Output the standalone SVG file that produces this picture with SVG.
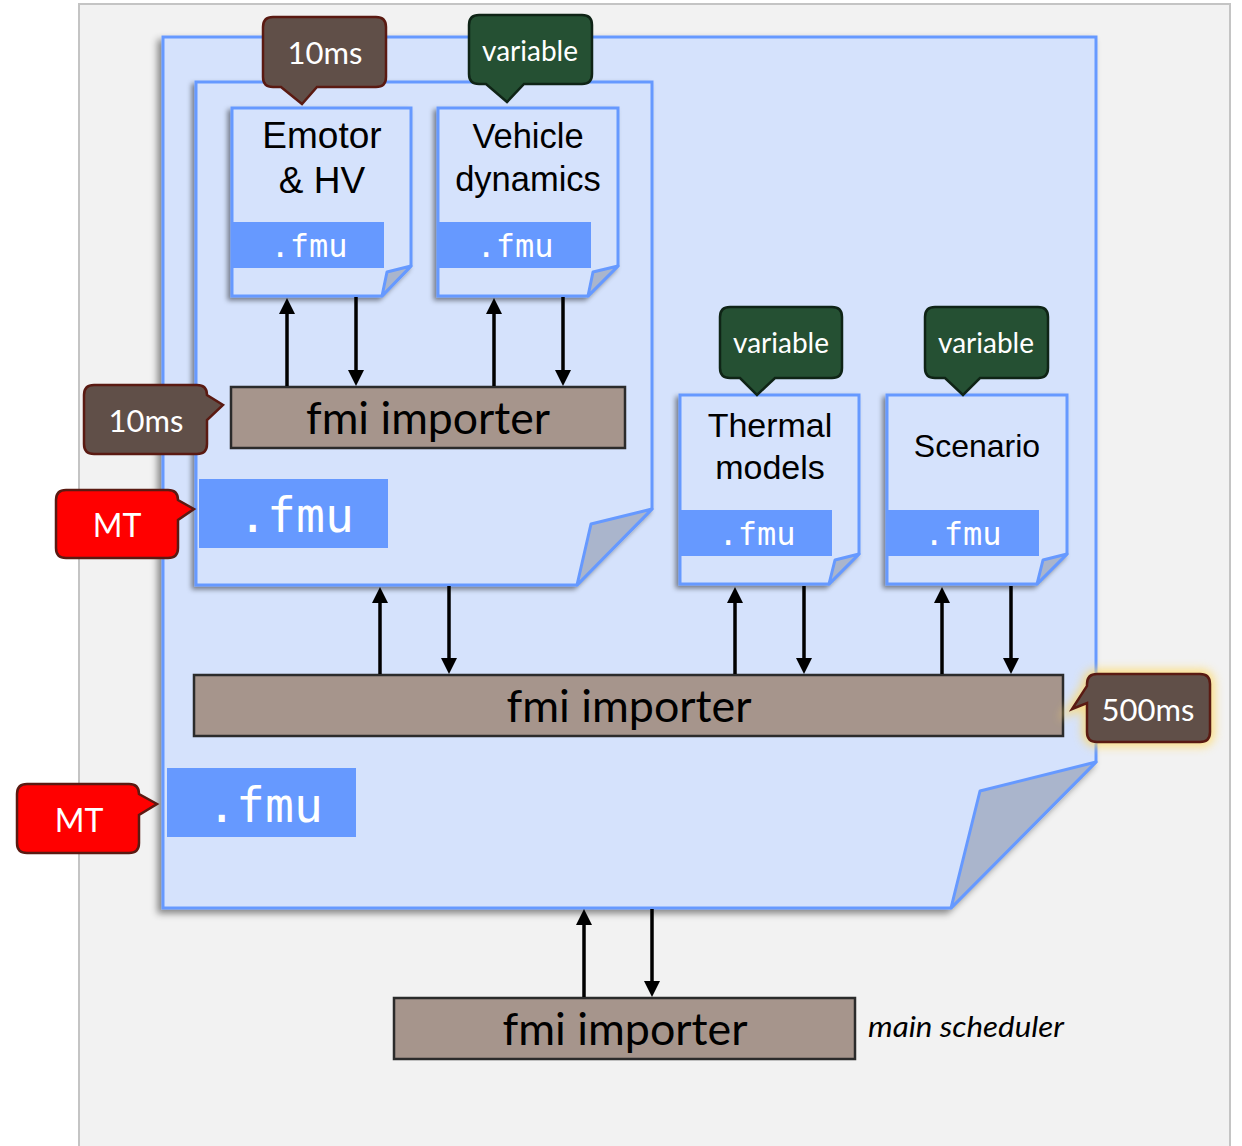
<svg xmlns="http://www.w3.org/2000/svg" width="1242" height="1146" viewBox="0 0 1242 1146">
<defs>
<style>
.doc{fill:#d5e2fc;stroke:#6699ff;stroke-width:3;stroke-linejoin:miter}
.fold{fill:#aab5cc;stroke:#6699ff;stroke-width:3;stroke-linejoin:round}
.band{fill:#6699ff}
.fmu{font-family:"DejaVu Sans Mono",monospace;fill:#ffffff;text-anchor:middle}
.title{font-family:"Liberation Sans",Arial,sans-serif;fill:#000;text-anchor:middle}
.imp{fill:#a6958c;stroke:#2b2b2b;stroke-width:2.5}
.impt{font-family:Lato,"Open Sans",sans-serif;font-size:44px;fill:#000;text-anchor:middle}
.brown{fill:#604f48;stroke:#5a1a12;stroke-width:2.5}
.green{fill:#255033;stroke:#0f2416;stroke-width:2.5}
.red{fill:#ff0000;stroke:#5a1a12;stroke-width:2.5}
.ct{font-family:Lato,"Open Sans",sans-serif;fill:#ffffff;text-anchor:middle}
.conn{stroke:#000;stroke-width:3.5;fill:none}
</style>
<filter id="sh" x="-20%" y="-20%" width="140%" height="140%">
<feDropShadow dx="-3" dy="3" stdDeviation="2.5" flood-color="#000" flood-opacity="0.45"/>
</filter>
<filter id="shBig" x="-10%" y="-10%" width="120%" height="120%">
<feDropShadow dx="-4" dy="4" stdDeviation="3.5" flood-color="#000" flood-opacity="0.45"/>
</filter>
<filter id="glow" x="-30%" y="-40%" width="160%" height="180%">
<feGaussianBlur stdDeviation="5"/>
</filter>
<marker id="ah" viewBox="0 0 16 16" refX="8" refY="8" markerWidth="16" markerHeight="16" markerUnits="userSpaceOnUse" orient="auto">
<path d="M0,0 L16,8 L0,16 Z" fill="#000"/>
</marker>
</defs>

<rect x="0" y="0" width="1242" height="1146" fill="#ffffff"/>
<rect id="panel" x="79" y="4" width="1151" height="1150" fill="#f2f2f2" stroke="#c4c4c4" stroke-width="2"/>

<g id="outer-fmu">
<path class="doc" filter="url(#shBig)" d="M163,37 H1096 V762 L951,908 H163 Z"/>
<path class="fold" d="M1096,762 L980,791 L951,908 Z"/>
<rect class="band" x="167" y="768" width="189" height="69"/>
<text class="fmu" x="265" y="822" font-size="48">.fmu</text>
</g>

<g id="inner-fmu">
<path class="doc" filter="url(#sh)" d="M196,82 H652 V509 L577,585 H196 Z"/>
<path class="fold" d="M652,509 L591,524 L577,585 Z"/>
<rect class="band" x="199" y="479" width="189" height="69"/>
<text class="fmu" x="296" y="532" font-size="48">.fmu</text>
</g>

<g id="emotor">
<path class="doc" filter="url(#sh)" d="M232,108 H411 V266 L382,296 H232 Z"/>
<path class="fold" d="M411,266 L387,272 L382,296 Z"/>
<text class="title" x="322" y="148" font-size="37">Emotor</text>
<text class="title" x="322" y="193" font-size="37">&amp; HV</text>
<rect class="band" x="232" y="222" width="152" height="46"/>
<text class="fmu" x="309" y="257" font-size="32">.fmu</text>
</g>

<g id="vehicle">
<path class="doc" filter="url(#sh)" d="M438,108 H618 V266 L588,296 H438 Z"/>
<path class="fold" d="M618,266 L593,272 L588,296 Z"/>
<text class="title" x="528" y="148" font-size="34.5">Vehicle</text>
<text class="title" x="528" y="191" font-size="34.5">dynamics</text>
<rect class="band" x="438" y="222" width="153" height="46"/>
<text class="fmu" x="515" y="257" font-size="32">.fmu</text>
</g>

<g id="thermal">
<path class="doc" filter="url(#sh)" d="M680,395 H859 V554 L829,584 H680 Z"/>
<path class="fold" d="M859,554 L835,560 L829,584 Z"/>
<text class="title" x="770" y="437" font-size="34">Thermal</text>
<text class="title" x="770" y="479" font-size="34">models</text>
<rect class="band" x="680" y="510" width="152" height="46"/>
<text class="fmu" x="757" y="545" font-size="32">.fmu</text>
</g>

<g id="scenario">
<path class="doc" filter="url(#sh)" d="M887,395 H1067 V554 L1037,584 H887 Z"/>
<path class="fold" d="M1067,554 L1043,560 L1037,584 Z"/>
<text class="title" x="977" y="457" font-size="32">Scenario</text>
<rect class="band" x="887" y="510" width="152" height="46"/>
<text class="fmu" x="963" y="545" font-size="32">.fmu</text>
</g>

<g id="importer-inner">
<rect class="imp" x="231" y="387" width="394" height="61"/>
<text class="impt" x="428" y="434" textLength="244" lengthAdjust="spacingAndGlyphs">fmi importer</text>
</g>

<g id="importer-middle">
<rect class="imp" x="194" y="675" width="869" height="61"/>
<text class="impt" x="629" y="722" textLength="245" lengthAdjust="spacingAndGlyphs">fmi importer</text>
</g>

<g id="importer-main">
<rect class="imp" x="394" y="998" width="461" height="61"/>
<text class="impt" x="625" y="1045" textLength="245" lengthAdjust="spacingAndGlyphs">fmi importer</text>
<text x="868" y="1037" font-family="Lato,'Open Sans',sans-serif" font-style="italic" font-size="28" fill="#000" textLength="196" lengthAdjust="spacingAndGlyphs">main scheduler</text>
</g>

<g id="connectors">
<path class="conn" d="M287,386 V306" marker-end="url(#ah)"/>
<path class="conn" d="M356,297 V378" marker-end="url(#ah)"/>
<path class="conn" d="M494,386 V306" marker-end="url(#ah)"/>
<path class="conn" d="M563,297 V378" marker-end="url(#ah)"/>
<path class="conn" d="M380,674 V595" marker-end="url(#ah)"/>
<path class="conn" d="M449,586 V666" marker-end="url(#ah)"/>
<path class="conn" d="M735,674 V595" marker-end="url(#ah)"/>
<path class="conn" d="M804,586 V666" marker-end="url(#ah)"/>
<path class="conn" d="M942,674 V595" marker-end="url(#ah)"/>
<path class="conn" d="M1011,586 V666" marker-end="url(#ah)"/>
<path class="conn" d="M584,997 V917" marker-end="url(#ah)"/>
<path class="conn" d="M652,909 V989" marker-end="url(#ah)"/>
</g>

<g id="callout-10ms-top">
<path class="brown" d="M273,17 H376 Q386,17 386,27 V77 Q386,87 376,87 H317 L302,104 L281,87 H273 Q263,87 263,77 V27 Q263,17 273,17 Z"/>
<text class="ct" x="325" y="64" font-size="31">10ms</text>
</g>

<g id="callout-variable-top">
<path class="green" d="M479,15 H582 Q592,15 592,25 V74 Q592,84 582,84 H524 L507,102 L486,84 H479 Q469,84 469,74 V25 Q469,15 479,15 Z"/>
<text class="ct" x="530" y="61" font-size="28">variable</text>
</g>

<g id="callout-variable-thermal">
<path class="green" d="M730,307 H832 Q842,307 842,317 V368 Q842,378 832,378 H775 L757,395 L740,378 H730 Q720,378 720,368 V317 Q720,307 730,307 Z"/>
<text class="ct" x="781" y="353" font-size="28">variable</text>
</g>

<g id="callout-variable-scenario">
<path class="green" d="M935,307 H1038 Q1048,307 1048,317 V368 Q1048,378 1038,378 H980 L963,395 L945,378 H935 Q925,378 925,368 V317 Q925,307 935,307 Z"/>
<text class="ct" x="986" y="353" font-size="28">variable</text>
</g>

<g id="callout-10ms-left">
<path class="brown" d="M94,385 H197 Q207,385 207,395 L223,405 L207,420 V444 Q207,454 197,454 H94 Q84,454 84,444 V395 Q84,385 94,385 Z"/>
<text class="ct" x="146" y="432" font-size="31">10ms</text>
</g>

<g id="callout-mt-upper">
<path class="red" d="M66,490 H168 Q178,490 178,500 L194,509 L178,520 V548 Q178,558 168,558 H66 Q56,558 56,548 V500 Q56,490 66,490 Z"/>
<text class="ct" x="117" y="537" font-size="32">MT</text>
</g>

<g id="callout-mt-lower">
<path class="red" d="M27,784 H129 Q139,784 139,794 L157,804 L139,815 V843 Q139,853 129,853 H27 Q17,853 17,843 V794 Q17,784 27,784 Z"/>
<text class="ct" x="79" y="832" font-size="32">MT</text>
</g>

<g id="callout-500ms">
<path d="M1097,674 H1200 Q1210,674 1210,684 V732 Q1210,742 1200,742 H1097 Q1087,742 1087,732 V703 L1072,709 L1087,686 V684 Q1087,674 1097,674 Z" fill="#ffd966" stroke="#ffd966" stroke-width="10" opacity="0.75" filter="url(#glow)"/>
<path class="brown" d="M1097,674 H1200 Q1210,674 1210,684 V732 Q1210,742 1200,742 H1097 Q1087,742 1087,732 V703 L1072,709 L1087,686 V684 Q1087,674 1097,674 Z"/>
<text class="ct" x="1148" y="721" font-size="31">500ms</text>
</g>
</svg>
